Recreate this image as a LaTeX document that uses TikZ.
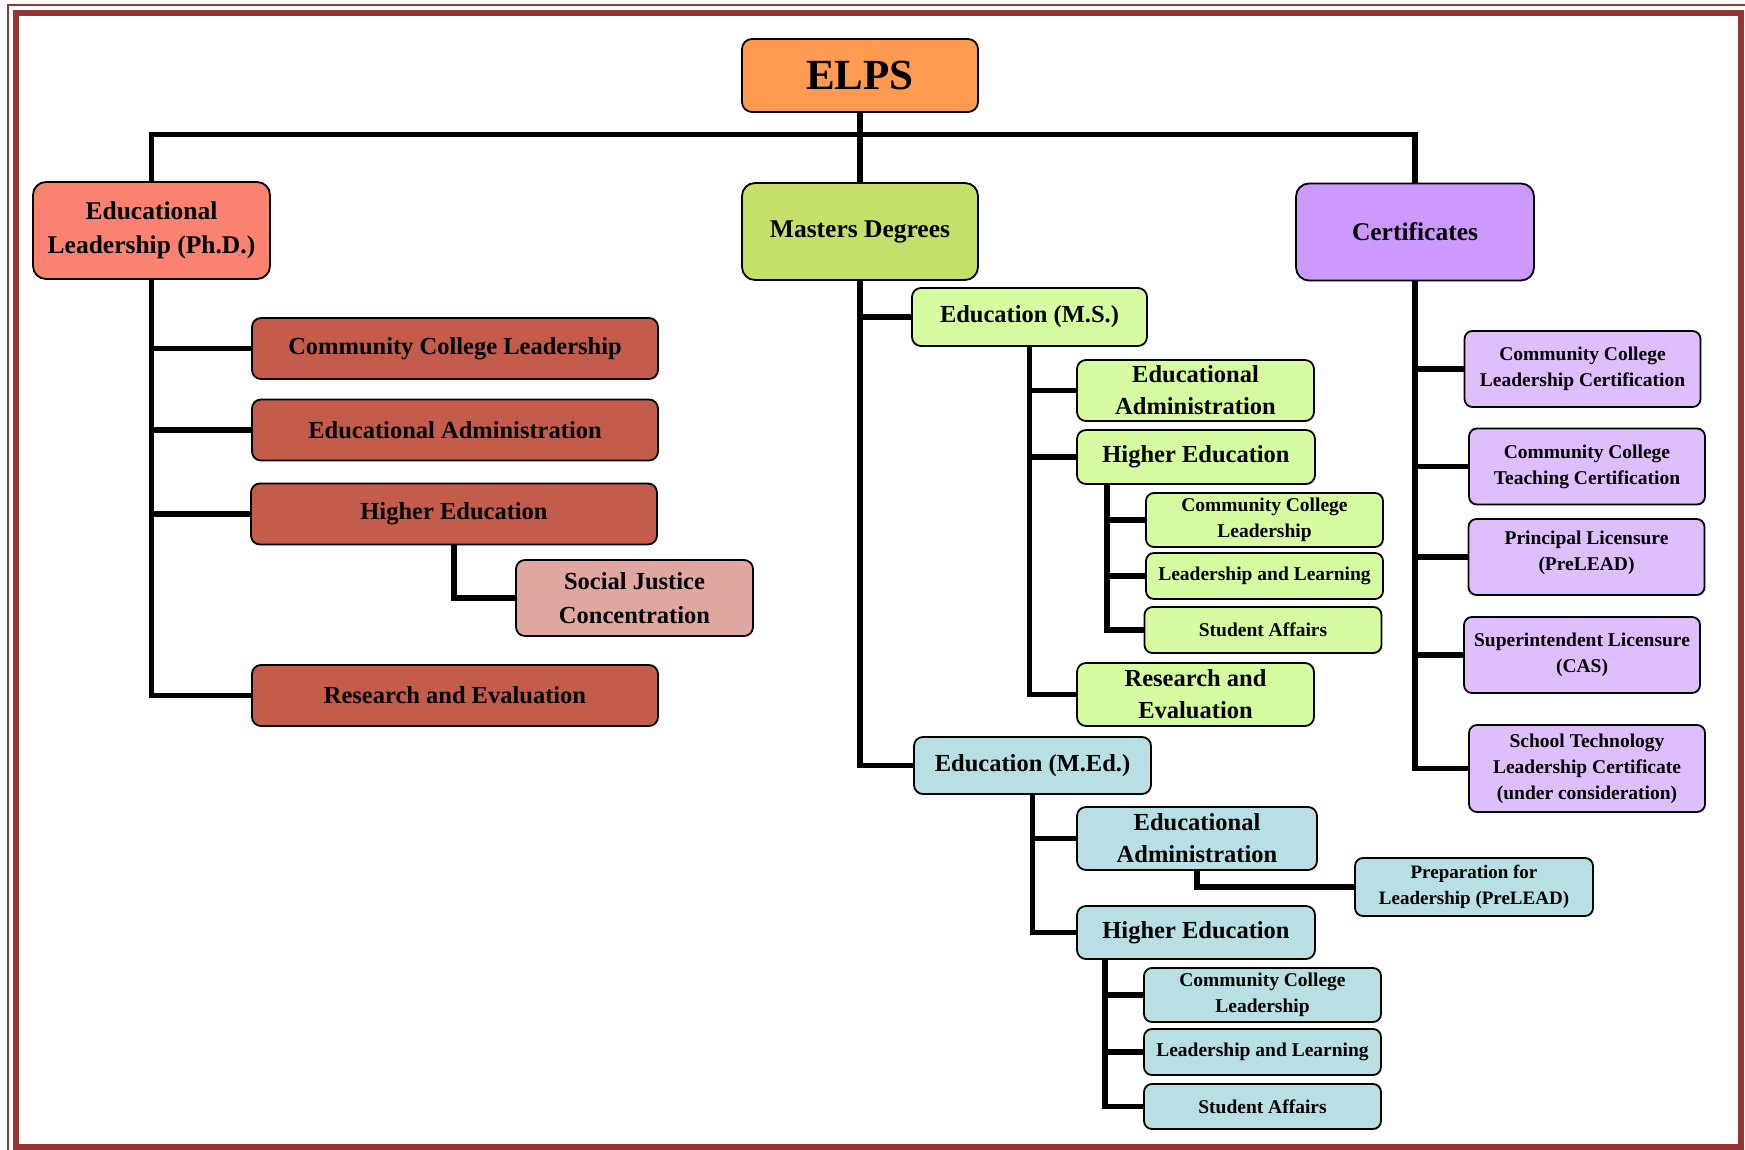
\documentclass[tikz,border=0pt]{standalone}
\usepackage{fontspec}
\setmainfont{Liberation Serif}
\usetikzlibrary{positioning}

\definecolor{borderred}{RGB}{148,54,52}
\definecolor{elpsorange}{RGB}{255,154,82}
\definecolor{phdsalmon}{RGB}{250,130,112}
\definecolor{phdbrick}{RGB}{196,92,76}
\definecolor{phdpink}{RGB}{224,167,160}
\definecolor{msolive}{RGB}{196,224,106}
\definecolor{mslime}{RGB}{213,252,160}
\definecolor{certviolet}{RGB}{204,153,255}
\definecolor{certlilac}{RGB}{222,190,253}
\definecolor{medblue}{RGB}{184,223,227}

\begin{document}
\begin{tikzpicture}[x=1pt,y=-1pt,
		box/.style={draw,line width=1.8pt,rounded corners=9pt,align=center,inner sep=1pt},
		topbox/.style={box,rounded corners=13pt,minimum width=236pt,minimum height=97pt,font=\bfseries\fontsize{25.5}{34}\selectfont},
		phdsub/.style={box,fill=phdbrick,minimum width=406pt,minimum height=61pt,font=\bfseries\fontsize{24.5}{34}\selectfont},
		msbox/.style={box,fill=mslime,minimum width=237pt,font=\bfseries\fontsize{24.5}{32}\selectfont},
		subbox/.style={box,rounded corners=8pt,minimum width=237pt,font=\bfseries\fontsize{19.5}{26}\selectfont},
		certbox/.style={subbox,fill=certlilac,minimum width=236pt,minimum height=76pt},
		conn/.style={line width=5.5pt}]
			
			\useasboundingbox (0,0) rectangle (1745,1150);
			
			% page frame
			\draw[borderred,line width=2.2pt] (8.3,4.7) rectangle (1760,1160);
			\draw[borderred,line width=6pt] (15.5,13.5) rectangle (1741,1146.5);
			
			% top level
			\node[topbox,fill=elpsorange,minimum height=73pt,rounded corners=10pt,font=\bfseries\fontsize{43}{50}\selectfont] (elps) at (860,75.5) {ELPS};
			\node[topbox,fill=phdsalmon,minimum width=237pt] (phd) at (151.5,230.5) {Educational\\Leadership (Ph.D.)};
			\node[topbox,fill=msolive] (masters) at (860,231.5) {Masters Degrees};
			\node[topbox,fill=certviolet,minimum width=238pt] (certs) at (1415,232) {Certificates};
			
			% Ph.D.
			\node[phdsub] (ccl_phd) at (455,348.5) {Community College Leadership};
			\node[phdsub] (ea_phd) at (455,430) {Educational Administration};
			\node[phdsub] (he_phd) at (454,514) {Higher Education};
			\node[phdsub,fill=phdpink,minimum width=237pt,minimum height=76pt] (sj) at (634.5,598) {Social Justice\\Concentration};
			\node[phdsub] (re_phd) at (455,695.5) {Research and Evaluation};
			
			% M.S.
			\node[msbox,minimum width=235pt,minimum height=58pt] (ed_ms) at (1029.5,317) {Education (M.S.)};
			\node[msbox,minimum height=61pt] (ea_ms) at (1195.5,390.5) {Educational\\Administration};
			\node[msbox,minimum width=238pt,minimum height=54pt] (he_ms) at (1196,457) {Higher Education};
			\node[subbox,fill=mslime,minimum height=54pt] (ccl_ms) at (1264.5,520) {Community College\\Leadership};
			\node[subbox,fill=mslime,minimum height=46pt] (ll_ms) at (1264.5,576) {Leadership and Learning};
			\node[subbox,fill=mslime,minimum height=46pt] (sa_ms) at (1263,630) {Student Affairs};
			\node[msbox,minimum height=63pt] (re_ms) at (1195.5,694.5) {Research and\\Evaluation};
			
			% M.Ed.
			\node[msbox,fill=medblue,minimum height=57pt] (ed_med) at (1032.5,765.5) {Education (M.Ed.)};
			\node[msbox,fill=medblue,minimum width=240pt,minimum height=63pt] (ea_med) at (1197,838.5) {Educational\\Administration};
			\node[subbox,fill=medblue,minimum width=238pt,minimum height=58pt,font=\bfseries\fontsize{19}{26}\selectfont] (prelead) at (1474,887) {Preparation for\\Leadership (PreLEAD)};
			\node[msbox,fill=medblue,minimum width=238pt,minimum height=53pt] (he_med) at (1196,932.5) {Higher Education};
			\node[subbox,fill=medblue,minimum height=54pt] (ccl_med) at (1262.5,995) {Community College\\Leadership};
			\node[subbox,fill=medblue,minimum height=46pt] (ll_med) at (1262.5,1052) {Leadership and Learning};
			\node[subbox,fill=medblue,minimum height=45pt] (sa_med) at (1262.5,1106.5) {Student Affairs};
			
			% certificates
			\node[certbox] (c1) at (1582.5,369) {Community College\\Leadership Certification};
			\node[certbox] (c2) at (1587,466.5) {Community College\\Teaching Certification};
			\node[certbox,text depth=12pt] (c3) at (1586.5,557) {Principal Licensure\\(PreLEAD)};
			\node[certbox] (c4) at (1582,655) {Superintendent Licensure\\(CAS)};
			\node[certbox,minimum height=87pt] (c5) at (1587,768.5) {School Technology\\Leadership Certificate\\(under consideration)};
			
			% connectors
			\coordinate (bus) at (860,134.5);
			\draw[conn] (phd.north) |- (bus) -| (certs.north);
			\draw[conn] (elps.south) -- (masters.north);
			
			\draw[conn] (phd.south) |- (re_phd.west);
			\foreach \n in {ccl_phd,ea_phd,he_phd}
				\draw[conn] (phd.south |- \n.west) -- (\n.west);
			\draw[conn] (he_phd.south) |- (sj.west);
			
			\draw[conn] (masters.south) |- (ed_med.west);
			\draw[conn] (masters.south |- ed_ms.west) -- (ed_ms.west);
			\draw[conn] (ed_ms.south) |- (re_ms.west);
			\foreach \n in {ea_ms,he_ms}
				\draw[conn] (ed_ms.south |- \n.west) -- (\n.west);
			\coordinate (hems_foot) at (1107,484);
			\draw[conn] (hems_foot) |- (sa_ms.west);
			\foreach \n in {ccl_ms,ll_ms}
				\draw[conn] (hems_foot |- \n.west) -- (\n.west);
			
			\draw[conn] (ed_med.south) |- (he_med.west);
			\draw[conn] (ed_med.south |- ea_med.west) -- (ea_med.west);
			\draw[conn] (ea_med.south) |- (prelead.west);
			\coordinate (hemed_foot) at (1105,959);
			\draw[conn] (hemed_foot) |- (sa_med.west);
			\foreach \n in {ccl_med,ll_med}
				\draw[conn] (hemed_foot |- \n.west) -- (\n.west);
			
			\draw[conn] (certs.south) |- (c5.west);
			\foreach \n in {c1,c2,c3,c4}
				\draw[conn] (certs.south |- \n.west) -- (\n.west);
			
		\end{tikzpicture}
\end{document}
